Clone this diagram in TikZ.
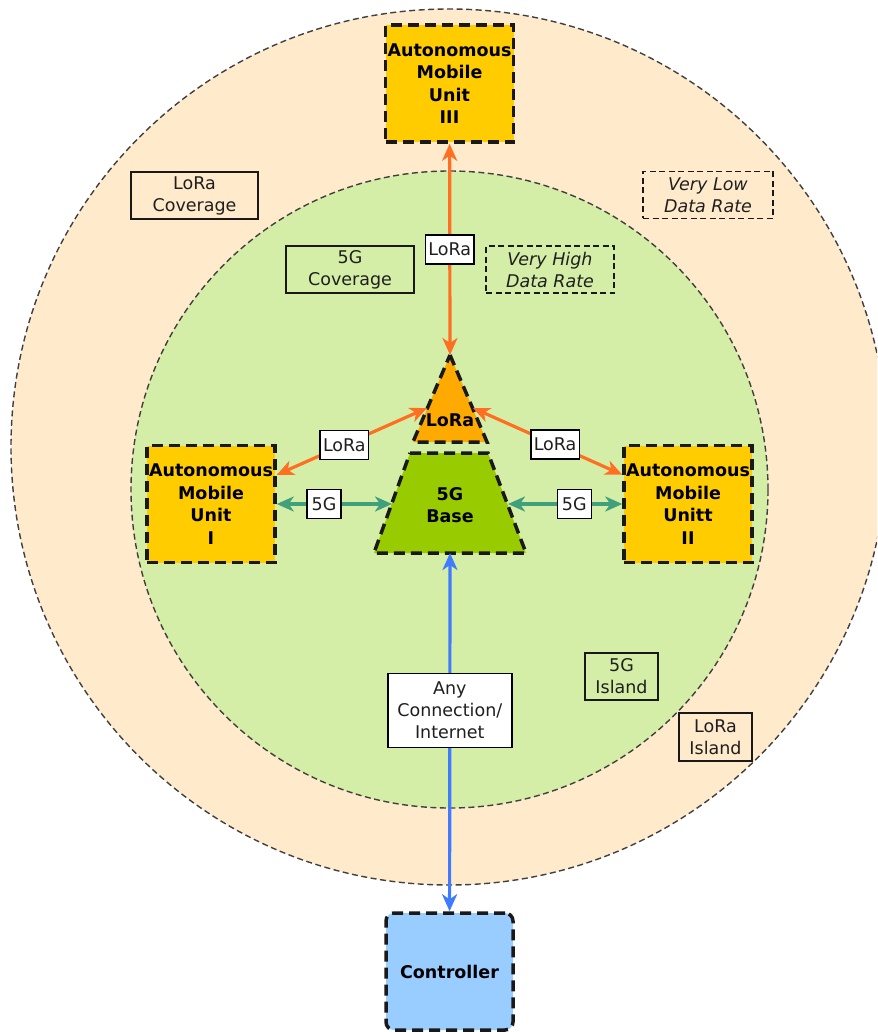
\documentclass[tikz,border=0pt]{standalone}
\usepackage{fontspec}
\setmainfont{DejaVu Sans}
\usetikzlibrary{arrows.meta}

\definecolor{loraZone}{HTML}{FFEBCC}
\definecolor{fiveZone}{HTML}{D5EEA7}
\definecolor{unitFill}{HTML}{FFCC00}
\definecolor{loraFill}{HTML}{FFAA00}
\definecolor{baseFill}{HTML}{99CC00}
\definecolor{ctrlFill}{HTML}{99CCFF}
\definecolor{loraLink}{HTML}{FF6F22}
\definecolor{fiveLink}{HTML}{41A07C}
\definecolor{netLink}{HTML}{3F7BFF}

\begin{document}
\begin{tikzpicture}[x=1pt, y=-1pt,
  >={Stealth[length=17pt, width=15pt, inset=5pt]},
  txt/.style={font=\fontsize{17.5}{22}\selectfont, text=black!88},
  btxt/.style={font=\bfseries\fontsize{17.5}{22.5}\selectfont, text=black, align=center},
  zone/.style={draw=black!75, line width=1.4pt, dash pattern=on 6pt off 3.5pt},
  shapeborder/.style={draw=black!90, line width=3.5pt, dash pattern=on 11pt off 6pt},
  unitbox/.style={shapeborder, btxt, fill=unitFill, minimum width=128pt, minimum height=117pt, inner sep=0pt},
  tag/.style={txt, draw=black, fill=white, line width=1.5pt, inner xsep=3pt, inner ysep=2pt, minimum height=29pt},
  note/.style={txt, draw=black!90, line width=1.4pt, align=center, inner sep=0pt, minimum height=47pt},
  dnote/.style={note, dash pattern=on 6pt off 3.5pt, font=\itshape\fontsize{17.5}{22}\selectfont},
  link/.style={line width=3.2pt, <->}
]
\useasboundingbox (0,0) rectangle (877,1032);
\clip (0,0) rectangle (877,1032);
\fill[white] (0,0) rectangle (877,1032);

% coverage zones
\draw[zone, fill=loraZone] (449,447) circle[radius=438pt];
\draw[zone, fill=fiveZone] (449.5,489.5) circle[radius=318.5pt];

% zone captions
\node[note, minimum width=127pt] (loraCov) at (194.5,195.5) {LoRa\\Coverage};
\node[dnote, minimum width=130pt] (lowRate) at (708,195) {Very Low\\Data Rate};
\node[note, minimum width=128pt] (fiveCov) at (350,269.5) {5G\\Coverage};
\node[dnote, minimum width=128pt] (highRate) at (550,269.5) {Very High\\Data Rate};
\node[note, minimum width=73pt] (fiveIsl) at (621.5,676.5) {5G\\Island};
\node[note, minimum width=73pt, minimum height=48pt] (loraIsl) at (715.5,737) {LoRa\\Island};

% LoRa gateway (triangle) and 5G base station (trapezoid)
\draw[shapeborder, fill=loraFill] (450,355) -- (487,442) -- (413,442) -- cycle;
\node[btxt] (loraTxt) at (450,420) {LoRa};
\draw[shapeborder, fill=baseFill] (410,453) -- (488,453) -- (526,553) -- (374,553) -- cycle;
\node[btxt] (baseTxt) at (450,505) {5G\\Base};

\coordinate (triTop) at (450,355);
\coordinate (triL) at (427,408);
\coordinate (triR) at (473,408);
\coordinate (baseL) at (392,504);
\coordinate (baseR) at (508,504);
\coordinate (baseS) at (450,553);

% mobile units and controller
\node[unitbox] (amuIII) at (449.5,83.5) {Autonomous\\Mobile\\Unit\\III};
\node[unitbox] (amuI) at (211,504) {Autonomous\\Mobile\\Unit\\I};
\node[unitbox] (amuII) at (688,504) {Autonomous\\Mobile\\Unitt\\II};
\node[unitbox, fill=ctrlFill, rounded corners=8pt, minimum width=127pt] (ctrl) at (449.5,971.5) {Controller};

% links
\draw[link, loraLink] (amuIII) -- node[tag] {LoRa} (triTop);
\draw[link, loraLink] (amuI) -- node[tag, pos=0.45] {LoRa} (triL);
\draw[link, loraLink] (amuII) -- node[tag, pos=0.45] {LoRa} (triR);
\draw[link, fiveLink] (amuI) -- node[tag, pos=0.41, minimum width=34pt] {5G} (baseL);
\draw[link, fiveLink] (amuII) -- node[tag, pos=0.42, minimum width=34pt] {5G} (baseR);
\draw[link, netLink] (baseS) -- node[tag, pos=0.44, align=center, minimum width=124pt, minimum height=74pt] {Any\\Connection/\\Internet} (ctrl);
\end{tikzpicture}
\end{document}
